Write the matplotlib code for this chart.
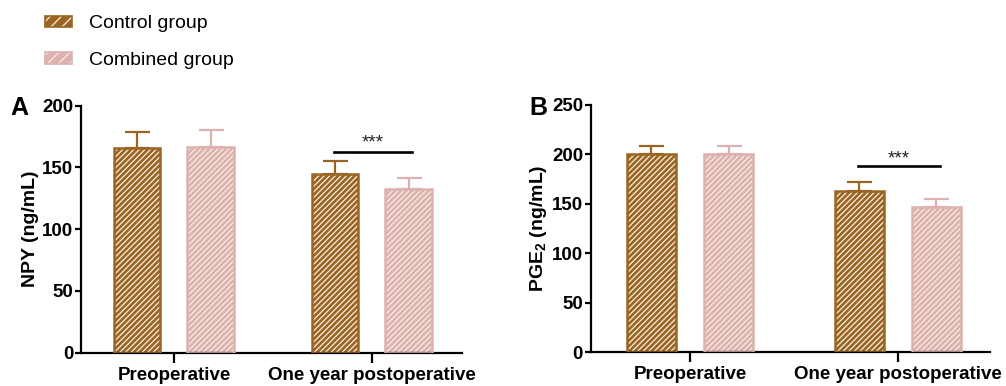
import matplotlib
matplotlib.use("Agg")
import matplotlib.pyplot as plt
from matplotlib.patches import Patch
import numpy as np

plt.rcParams["font.family"] = ["Liberation Sans", "DejaVu Sans"]
plt.rcParams["mathtext.fontset"] = "custom"
plt.rcParams["mathtext.rm"] = "Liberation Sans"
plt.rcParams["mathtext.bf"] = "Liberation Sans:bold"
plt.rcParams["hatch.linewidth"] = 0.9

GROUPS = ["Preoperative", "One year postoperative"]
SERIES = ["Control group", "Combined group"]
COLORS = ["#9a6522", "#dcb1b0"]
HATCH_COLOR = "#f8eee2"

# panel A: NPY
npy_mean = {"Control group": [166, 145], "Combined group": [166.5, 132.5]}
npy_sd = {"Control group": [12.5, 10.5], "Combined group": [14, 8.7]}
# panel B: PGE2
pge_mean = {"Control group": [200.8, 163], "Combined group": [200.8, 146.6]}
pge_sd = {"Control group": [7.5, 9], "Combined group": [7.8, 8.4]}

PANELS = [
    dict(letter="A", ylabel="NPY (ng/mL)", mean=npy_mean, sd=npy_sd,
         ylim=200, yticks=[0, 50, 100, 150, 200], sig_y=162.8, star_y=166,
         rect=[0.0805, 0.0863, 0.3785, 0.6397], xlim=(-0.47, 1.455),
         letter_x=0.010),
    dict(letter="B", ylabel=r"PGE$_\mathbf{2}$ (ng/mL)", mean=pge_mean, sd=pge_sd,
         ylim=250, yticks=[0, 50, 100, 150, 200, 250], sig_y=188, star_y=191,
         rect=[0.5872, 0.0873, 0.3970, 0.6407], xlim=(-0.478, 1.444),
         letter_x=0.526),
]

WIDTH = 0.235
OFFSET = 0.186

fig = plt.figure(figsize=(10.06, 3.86), dpi=100)

for p in PANELS:
    ax = fig.add_axes(p["rect"])
    x = np.arange(len(GROUPS))
    for i, (name, color) in enumerate(zip(SERIES, COLORS)):
        xs = x + (-OFFSET if i == 0 else OFFSET)
        m = p["mean"][name]
        s = p["sd"][name]
        ax.errorbar(xs, m, yerr=[np.zeros(len(s)), s], fmt="none",
                    ecolor=color, elinewidth=1.6, capsize=9, capthick=1.6,
                    zorder=1)
        ax.bar(xs, m, WIDTH, color=color, edgecolor=HATCH_COLOR, hatch="//////",
               linewidth=0, zorder=2)
        ax.bar(xs, m, WIDTH, facecolor="none", edgecolor=color,
               linewidth=1.8, zorder=3)

    ax.plot([0.808, 1.202], [p["sig_y"]] * 2, color="black", lw=1.9, zorder=4)
    ax.text(1.005, p["star_y"], "***", ha="center", va="baseline",
            fontsize=13.5, color="#222222")

    ax.set_xlim(*p["xlim"])
    ax.set_ylim(0, p["ylim"])
    ax.set_yticks(p["yticks"])
    ax.set_xticks(x)
    ax.set_xticklabels(GROUPS, fontsize=13.5, fontweight="bold")
    for lab in ax.get_yticklabels():
        lab.set_fontsize(13.5)
        lab.set_fontweight("bold")
    ax.set_ylabel(p["ylabel"], fontsize=14, fontweight="bold", labelpad=2)
    for side in ["top", "right"]:
        ax.spines[side].set_visible(False)
    for side in ["left", "bottom"]:
        ax.spines[side].set_linewidth(1.6)
    ax.tick_params(axis="y", length=4, width=1.6, pad=1.5)
    ax.tick_params(axis="x", length=7, width=1.6, pad=3)

    fig.text(p["letter_x"], 0.702, p["letter"], fontsize=18,
             fontweight="bold", va="baseline", ha="left")

handles = []
for color in COLORS:
    handles.append((Patch(facecolor=color, edgecolor=HATCH_COLOR, hatch="///", linewidth=0),
                    Patch(facecolor="none", edgecolor=color, linewidth=1.2)))
fig.legend(handles, SERIES, loc="upper left", bbox_to_anchor=(0.039, 0.975),
           frameon=False, fontsize=14, handlelength=1.4, handleheight=0.55,
           handletextpad=0.85, labelspacing=1.0, borderpad=0.3,
           borderaxespad=0)

fig.savefig("out.png", dpi=100)
